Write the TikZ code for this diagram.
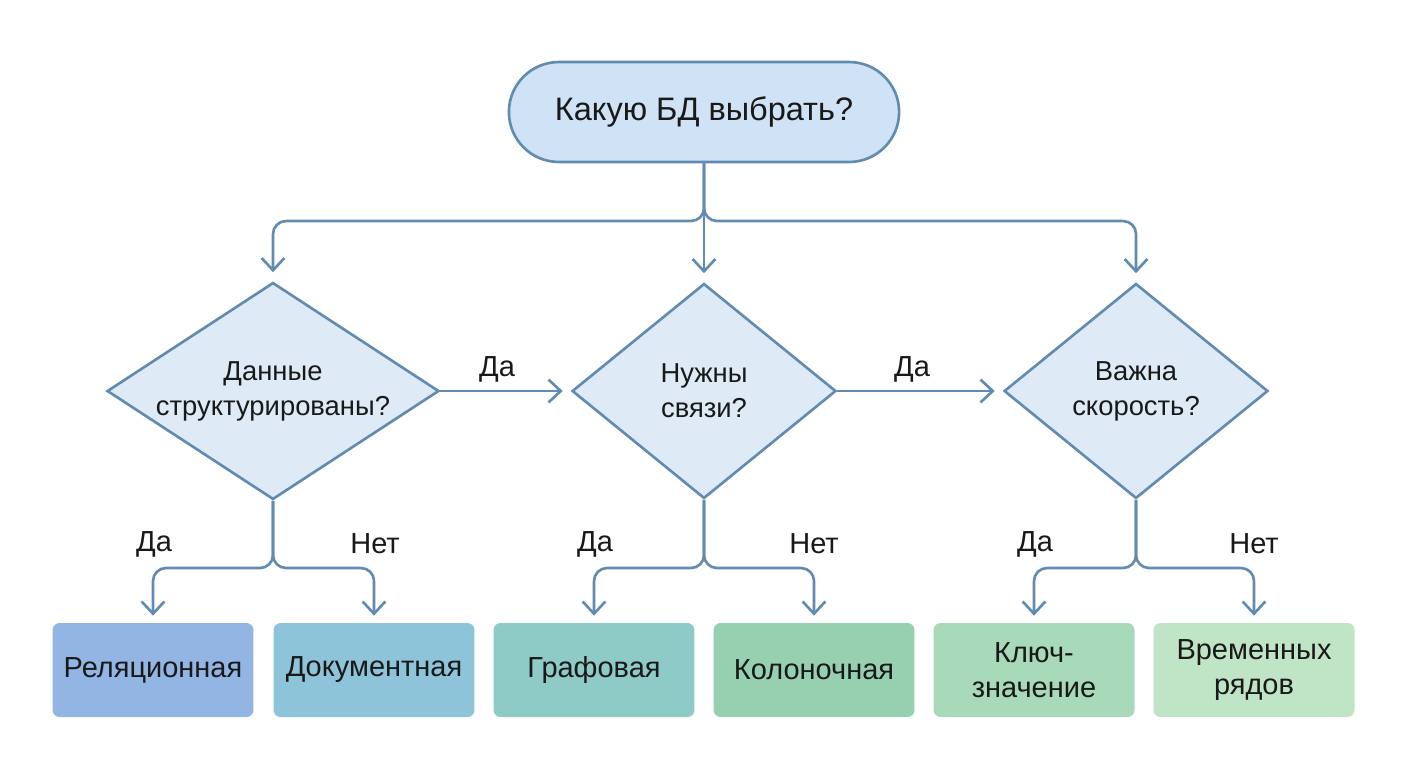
\documentclass[tikz,border=0pt]{standalone}
\usepackage{fontspec}
\setmainfont{Liberation Sans}
\usepackage{xcolor}
\usetikzlibrary{shapes,arrows.meta,positioning,calc}

\definecolor{lineblue}{HTML}{618BB0}
\definecolor{startfill}{HTML}{CFE2F6}
\definecolor{askfill}{HTML}{DEEBF7}
\definecolor{relfill}{HTML}{93B5E3}
\definecolor{docfill}{HTML}{8EC4D9}
\definecolor{graphfill}{HTML}{8ECAC6}
\definecolor{colfill}{HTML}{97D0B0}
\definecolor{kvfill}{HTML}{A8D9B8}
\definecolor{tsfill}{HTML}{C0E4C6}

\begin{document}
\begin{tikzpicture}[
    x=0.02cm, y=-0.02cm,
    every node/.style = {font=\fontsize{16.5}{20}\selectfont, text=black!90, align=center},
    start/.style = {draw=lineblue, fill=startfill, line width=1.5pt, rounded rectangle,
      minimum width=8.04cm, minimum height=2cm, font=\fontsize{18.5}{22}\selectfont},
    ask/.style = {draw=lineblue, fill=askfill, line width=1.5pt, diamond, aspect=1.53,
      inner sep=0pt, font=\fontsize{15.6}{20}\selectfont},
    dbbox/.style = {rectangle, rounded corners=0.14cm, minimum width=4.02cm, minimum height=1.88cm},
    arr/.style = {draw=lineblue, line width=1.5pt, rounded corners=0.26cm,
      -{Straight Barb[length=7pt,width=13pt]}},
    lbl/.style = {inner sep=1pt}
  ]
  \useasboundingbox (0,0) rectangle (1408,768);

  % старт
  \node[start] (top) at (704,112) {Какую БД выбрать?};

  % вопросы
  \node[ask, minimum width=6.64cm, minimum height=4.34cm] (q1) at (273,391) {Данные\\структурированы?};
  \node[ask, minimum width=5.28cm, minimum height=4.3cm] (q2) at (704,391) {Нужны\\связи?};
  \node[ask, minimum width=5.28cm, minimum height=4.3cm] (q3) at (1136,391) {Важна\\скорость?};

  % типы БД
  \node[dbbox, fill=relfill] (rel) at (153,670) {Реляционная};
  \node[dbbox, fill=docfill] (doc) at (374,670) {Документная};
  \node[dbbox, fill=graphfill] (graph) at (594,670) {Графовая};
  \node[dbbox, fill=colfill] (col) at (814,670) {Колоночная};
  \node[dbbox, fill=kvfill] (kv) at (1034,670) {Ключ-\\значение};
  \node[dbbox, fill=tsfill] (ts) at (1254,670) {Временных\\рядов};

  % развилки
  \coordinate (j0) at (704,221);
  \coordinate (j1) at (273,568);
  \coordinate (j2) at (704,568);
  \coordinate (j3) at (1136,568);

  \draw[arr, shorten >=0.18cm] (top.south) -- (j0) -| (q1.north);
  \draw[arr, shorten >=0.18cm] (top.south) -- (j0) -| (q3.north);
  \draw[arr, shorten >=0.18cm] (top.south) -- (j0) -- (q2.north);

  \draw[arr, shorten >=0.16cm] (q1.east) -- (q2.west);
  \draw[arr, shorten >=0.16cm] (q2.east) -- (q3.west);
  \node[lbl] (y1) at (497,369) {Да};
  \node[lbl] (y2) at (912,369) {Да};

  \draw[arr, shorten >=0.14cm] (q1.south) -- (j1) -| (rel.north);
  \draw[arr, shorten >=0.14cm] (q1.south) -- (j1) -| (doc.north);
  \draw[arr, shorten >=0.14cm] (q2.south) -- (j2) -| (graph.north);
  \draw[arr, shorten >=0.14cm] (q2.south) -- (j2) -| (col.north);
  \draw[arr, shorten >=0.14cm] (q3.south) -- (j3) -| (kv.north);
  \draw[arr, shorten >=0.14cm] (q3.south) -- (j3) -| (ts.north);

  \node[lbl] (y3) at (154,544) {Да};
  \node[lbl] (n1) at (375,544) {Нет};
  \node[lbl] (y4) at (595,544) {Да};
  \node[lbl] (n2) at (814,544) {Нет};
  \node[lbl] (y5) at (1035,544) {Да};
  \node[lbl] (n3) at (1254,544) {Нет};
\end{tikzpicture}
\end{document}
